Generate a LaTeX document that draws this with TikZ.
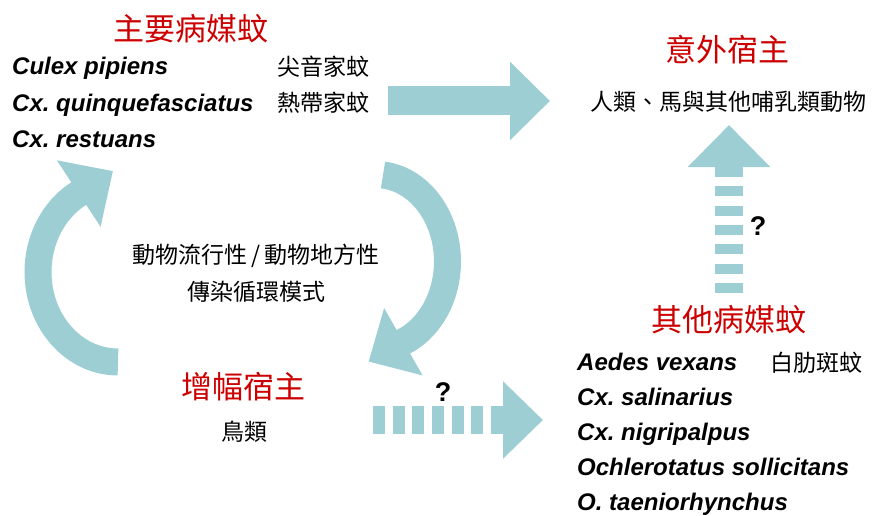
\documentclass[tikz,border=0pt]{standalone}
\usepackage{fontspec}
\setmainfont{Liberation Sans}
\newfontfamily\cjk{Noto Sans CJK TC}
\usetikzlibrary{arrows.meta}
\definecolor{cycteal}{RGB}{156,206,212}
\definecolor{hostred}{RGB}{204,0,0}
\frenchspacing
\begin{document}
\begin{tikzpicture}[x=1pt,y=-1pt,
		title/.style={text=hostred,inner sep=0pt,font=\cjk\fontsize{31}{31}\selectfont},
		zh/.style={inner sep=0pt,font=\cjk\fontsize{23}{23}\selectfont},
		sp/.style={inner sep=0pt,anchor=base west,font=\bfseries\itshape\fontsize{24}{24}\selectfont},
		qmark/.style={inner sep=0pt,font=\bfseries\fontsize{27}{27}\selectfont},
		blk/.style={draw=cycteal,line width=28pt}]
		\useasboundingbox (0,0) rectangle (877,516);
		
		% main vectors
		\node[title] (mainvec) at (191,29) {主要病媒蚊};
		\node[sp] (cpip) at (12,75) {Culex pipiens}; \node[zh,anchor=base west] (cpipzh) at (277,76) {尖音家蚊};
		\node[sp] (cqui) at (12,111) {Cx. quinquefasciatus}; \node[zh,anchor=base west] (cquizh) at (277,112) {熱帶家蚊};
		\node[sp] (cres) at (12,147) {Cx. restuans};
		
		% incidental hosts
		\node[title] (accid) at (727,50) {意外宿主};
		\node[zh] (mammal) at (728,102) {人類、馬與其他哺乳類動物};
		
		% cycle
		\node[zh] (cycle1) at (256,256) {動物流行性\,/\,動物地方性};
		\node[zh] (cycle2) at (256,292) {傳染循環模式};
		\node[title] (amp) at (243,387) {增幅宿主};
		\node[zh] (birds) at (244,432) {鳥類};
		
		% other vectors
		\node[title] (othvec) at (729,320) {其他病媒蚊};
		\node[sp] (aves) at (577,370) {Aedes vexans}; \node[zh,anchor=base west] (aveszh) at (770,371) {白肋斑蚊};
		\node[sp] (csal) at (577,405) {Cx. salinarius};
		\node[sp] (cnig) at (577,440) {Cx. nigripalpus};
		\node[sp] (osol) at (577,475) {Ochlerotatus sollicitans};
		\node[sp] (otae) at (577,510) {O. taeniorhynchus};
		
		\node[qmark] (q1) at (443,392) {?};
		\node[qmark] (q2) at (758,226) {?};
		
		% block arrows
		\coordinate (mainout) at (388,101); \coordinate (accidin) at (550,101);
		\coordinate (ampin) at (118,362); \coordinate (mainin) at (383,175);
		\coordinate (ampout) at (373,420); \coordinate (othin) at (543,420);
		\coordinate (othout) at (729,293); \coordinate (accidup) at (729,125);
		\draw[blk,line width=29pt,-{Triangle[length=40pt,width=76pt]}] (mainout) -- (accidin);
		\draw[blk,line width=27pt,-{Triangle[length=41pt,width=77pt]}] (ampin) arc[start angle=90,end angle=240,x radius=80,y radius=90] -- ++(35,-23);
		\draw[blk,line width=27pt,-{Triangle[length=40pt,width=75pt]}] (mainin) arc[start angle=-84,end angle=67,x radius=72,y radius=87] -- ++(-35,20);
		\draw[blk,dash pattern=on 12pt off 7.67pt,-{Triangle[length=40pt,width=75pt]}] (ampout) -- (othin);
		\draw[blk,dash pattern=on 10pt off 9.33pt,-{Triangle[length=42pt,width=80pt]}] (othout) -- (accidup);
\end{tikzpicture}
\end{document}
